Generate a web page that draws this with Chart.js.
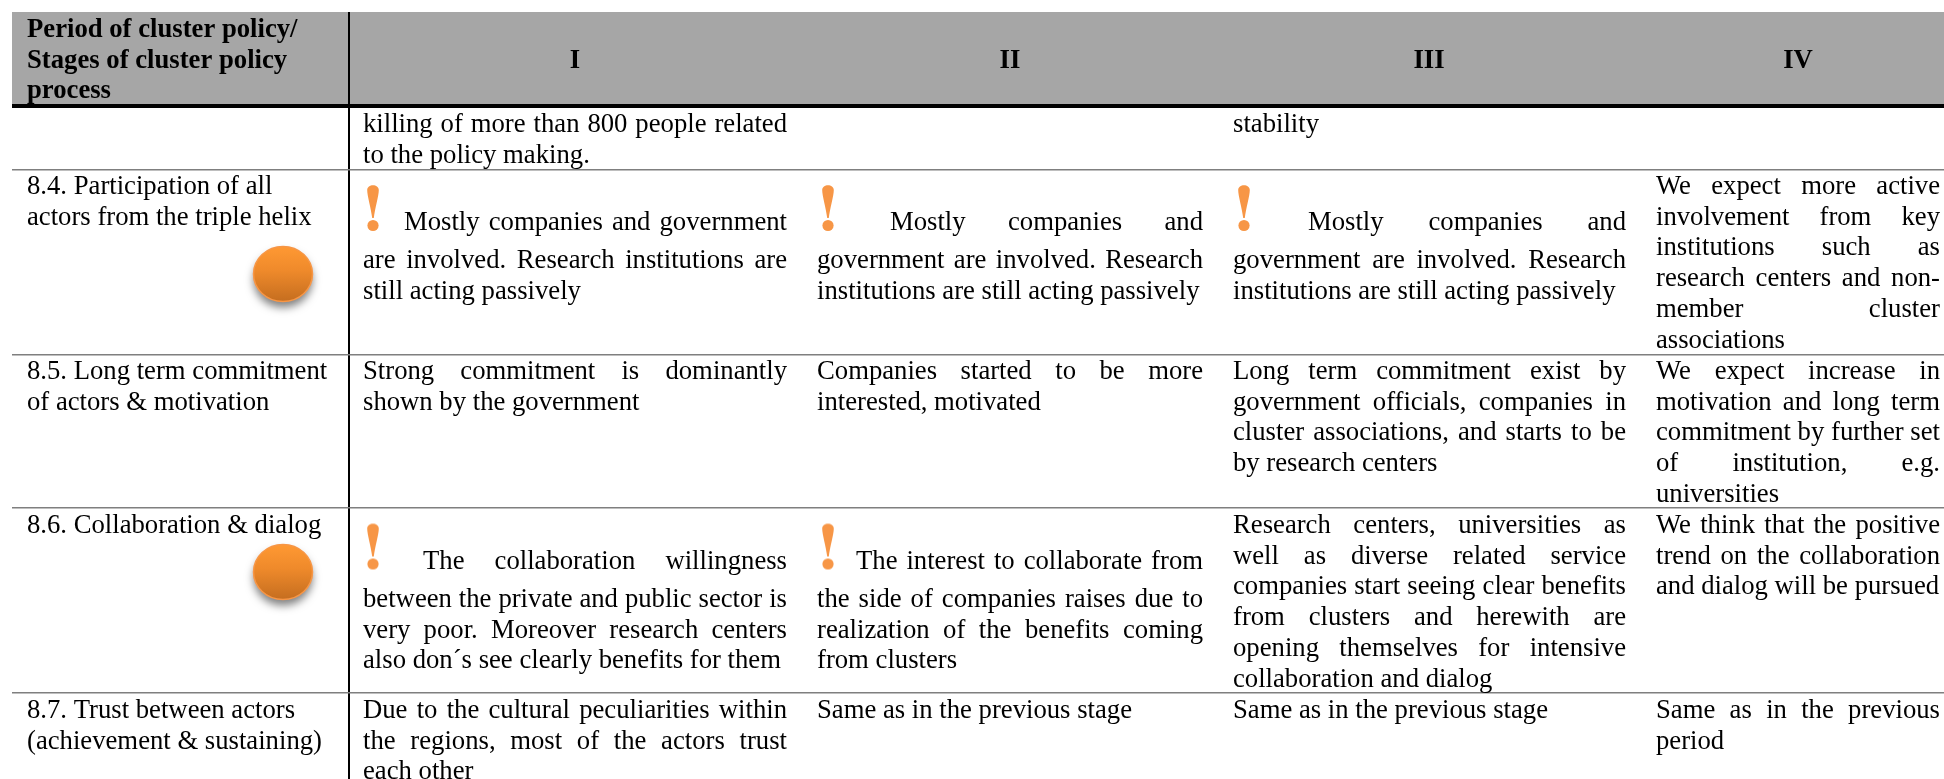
<!DOCTYPE html>
<html>
<head>
<meta charset="utf-8">
<script src="https://cdn.jsdelivr.net/npm/chart.js@4"></script>
<style>
  html, body { margin: 0; padding: 0; background: #fff; overflow: hidden; }
  canvas { display: block; }
</style>
</head>
<body>
<canvas id="tabla" width="1944" height="779"></canvas>
<script>
// Texts of the table
const cornerLabel = ['Period of cluster policy/', 'Stages of cluster policy', 'process'];
const periods = ['I', 'II', 'III', 'IV'];
const stages = [
  [],
  ['8.4. Participation of all', 'actors from the triple helix'],
  ['8.5. Long term commitment', 'of actors & motivation'],
  ['8.6. Collaboration & dialog'],
  ['8.7. Trust between actors', '(achievement & sustaining)']
];
const periodI = [
  ['killing of more than 800 people related', 'to the policy making.'],
  ['Mostly companies and government', 'are involved. Research institutions are', 'still acting passively'],
  ['Strong commitment is dominantly', 'shown by the government'],
  ['The collaboration willingness', 'between the private and public sector is', 'very poor. Moreover research centers', 'also don´s see clearly benefits for them'],
  ['Due to the cultural peculiarities within', 'the regions, most of the actors trust', 'each other']
];
const periodII = [
  [],
  ['Mostly companies and', 'government are involved. Research', 'institutions are still acting passively'],
  ['Companies started to be more', 'interested, motivated'],
  ['The interest to collaborate from', 'the side of companies raises due to', 'realization of the benefits coming', 'from clusters'],
  ['Same as in the previous stage']
];
const periodIII = [
  ['stability'],
  ['Mostly companies and', 'government are involved. Research', 'institutions are still acting passively'],
  ['Long term commitment exist by', 'government officials, companies in', 'cluster associations, and starts to be', 'by research centers'],
  ['Research centers, universities as', 'well as diverse related service', 'companies start seeing clear benefits', 'from clusters and herewith are', 'opening themselves for intensive', 'collaboration and dialog'],
  ['Same as in the previous stage']
];
const periodIV = [
  [],
  ['We expect more active', 'involvement from key', 'institutions such as', 'research centers and non-', 'member cluster', 'associations'],
  ['We expect increase in', 'motivation and long term', 'commitment by further set', 'of institution, e.g.', 'universities'],
  ['We think that the positive', 'trend on the collaboration', 'and dialog will be pursued'],
  ['Same as in the previous', 'period']
];
const columns = [periodI, periodII, periodIII, periodIV];

// Which cells carry a warning mark, and which stages an orange disc
const warningCells = [[1, 0], [1, 1], [1, 2], [3, 0], [3, 1]];
const discRows = [1, 3];

// Layout of the page (the scales run in page pixels)
const cols = [{l: 363, r: 787, c: 575}, {l: 817, r: 1203, c: 1010}, {l: 1233, r: 1626, c: 1429}, {l: 1656, r: 1940, c: 1798}];
const stageX = 27;
const rowEdges = [106, 169.5, 354.5, 508, 693];
const colEdges = [349];
const firstBase = [132, 194, 379, 533, 718];
const pitch = 30.7;
const warnBase = [36, 74, 105, 135];
const warnIndent = {'1,0': 41, '1,1': 73, '1,2': 75, '3,0': 60, '3,1': 39};
const warnX = [373, 828, 1244];
const warnY = {1: 208, 3: 546.5};
const discX = 283;
const discY = {1: 274, 3: 572};
const fontSize = 26.7;

// Orange disc with soft shadow
function makeDisc() {
  const c = document.createElement('canvas');
  c.width = 90; c.height = 90;
  const g = c.getContext('2d');
  const grad = g.createLinearGradient(0, 17, 0, 71);
  grad.addColorStop(0, '#ff9933');
  grad.addColorStop(0.45, '#ef8a2b');
  grad.addColorStop(1, '#c76f20');
  g.shadowColor = 'rgba(0,0,0,0.5)';
  g.shadowBlur = 8;
  g.shadowOffsetY = 6;
  g.beginPath();
  g.ellipse(45, 45, 29.5, 27.5, 0, 0, Math.PI * 2);
  g.fillStyle = grad;
  g.fill();
  g.shadowColor = 'transparent';
  g.lineWidth = 1.5;
  g.strokeStyle = '#f79646';
  g.stroke();
  return c;
}

// Orange exclamation mark
function makeWarning() {
  const c = document.createElement('canvas');
  c.width = 16; c.height = 48;
  const g = c.getContext('2d');
  g.fillStyle = '#f79646';
  g.beginPath();
  g.moveTo(2.2, 6);
  g.bezierCurveTo(2.2, -0.5, 13.8, -0.5, 13.8, 6);
  g.bezierCurveTo(13.8, 12, 10, 24, 8.8, 34);
  g.lineTo(7.2, 34);
  g.bezierCurveTo(6, 24, 2.2, 12, 2.2, 6);
  g.fill();
  g.beginPath();
  g.ellipse(8, 41.5, 5.6, 5.5, 0, 0, Math.PI * 2);
  g.fill();
  return c;
}

function drawLine(ctx, text, x0, x1, y, justify) {
  if (!justify) { ctx.fillText(text, x0, y); return; }
  const words = text.split(' ');
  const widths = words.map(w => ctx.measureText(w).width);
  const gap = (x1 - x0 - widths.reduce((a, b) => a + b, 0)) / (words.length - 1);
  let x = x0;
  words.forEach((w, i) => {
    ctx.fillText(w, x, y);
    x += widths[i] + gap;
  });
}

const textoTabla = {
  id: 'textoTabla',
  afterDraw(chart) {
    const ctx = chart.ctx;
    const sx = chart.scales.x, sy = chart.scales.y;
    ctx.save();
    ctx.fillStyle = '#000';
    ctx.textBaseline = 'alphabetic';
    ctx.textAlign = 'left';

    // Cabecera
    ctx.font = 'bold ' + fontSize + 'px "Liberation Serif"';
    cornerLabel.forEach((t, i) => ctx.fillText(t, sx.getPixelForValue(stageX), sy.getPixelForValue(37 + i * pitch)));
    ctx.textAlign = 'center';
    periods.forEach((t, i) => ctx.fillText(t, sx.getPixelForValue(cols[i].c), sy.getPixelForValue(67.5)));
    ctx.textAlign = 'left';

    // Filas
    ctx.font = fontSize + 'px "Liberation Serif"';
    stages.forEach((lines, r) => {
      lines.forEach((t, i) => ctx.fillText(t, sx.getPixelForValue(stageX), sy.getPixelForValue(firstBase[r] + i * pitch)));
    });
    columns.forEach((col, c) => {
      col.forEach((lines, r) => {
        const indent = warnIndent[r + ',' + c];
        lines.forEach((t, i) => {
          const y = indent !== undefined ? firstBase[r] + warnBase[i] : firstBase[r] + i * pitch;
          const x0 = cols[c].l + (indent !== undefined && i === 0 ? indent : 0);
          drawLine(ctx, t, sx.getPixelForValue(x0), sx.getPixelForValue(cols[c].r), sy.getPixelForValue(y), i < lines.length - 1);
        });
      });
    });
    ctx.restore();
  }
};

new Chart(document.getElementById('tabla'), {
  type: 'bar',
  data: {
    datasets: [
      {
        // Banda gris de la cabecera
        indexAxis: 'y',
        data: [{x: [12, 1944], y: 58}],
        backgroundColor: '#a6a6a6',
        barThickness: 92
      },
      {
        type: 'scatter',
        data: discRows.map(r => ({x: discX, y: discY[r]})),
        pointStyle: makeDisc(),
        pointRadius: 45
      },
      {
        type: 'scatter',
        data: warningCells.map(([r, c]) => ({x: warnX[c], y: warnY[r]})),
        pointStyle: makeWarning(),
        pointRadius: 24
      }
    ]
  },
  options: {
    responsive: false,
    animation: false,
    layout: { autoPadding: false, padding: { left: 12, top: 12 } },
    plugins: { legend: { display: false }, tooltip: { enabled: false } },
    scales: {
      x: {
        type: 'linear', min: 12, max: 1944, offset: false,
        afterBuildTicks: axis => { axis.ticks = colEdges.map(v => ({value: v})); },
        ticks: { display: false, autoSkip: false },
        border: { display: false },
        grid: { z: 1, offset: false, drawTicks: false, color: '#000', lineWidth: 2 }
      },
      y: {
        type: 'linear', min: 12, max: 779, reverse: true, offset: false,
        afterBuildTicks: axis => { axis.ticks = rowEdges.map(v => ({value: v})); },
        ticks: { display: false, autoSkip: false },
        border: { display: false },
        grid: {
          z: 1, offset: false, drawTicks: false,
          color: c => c.index === 0 ? '#000' : '#7f7f7f',
          lineWidth: c => c.index === 0 ? 4 : 1.5
        }
      }
    }
  },
  plugins: [textoTabla]
});
</script>
</body>
</html>
